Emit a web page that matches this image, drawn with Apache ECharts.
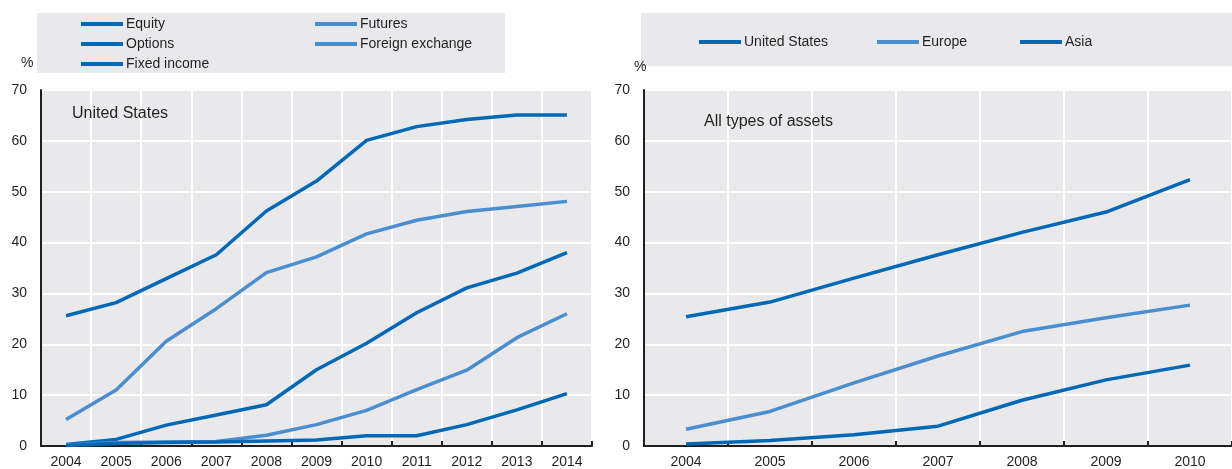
<!DOCTYPE html>
<html>
<head>
<meta charset="utf-8">
<script src="https://cdn.jsdelivr.net/npm/echarts@6/dist/echarts.min.js"></script>
<style>
  html, body { margin: 0; padding: 0; background: #fff; }
  #chart { width: 1232px; height: 469px; }
</style>
</head>
<body>
<div id="chart"></div>
<script>
// left panel: United States by asset type
const yearsUS = ['2004', '2005', '2006', '2007', '2008', '2009', '2010', '2011', '2012', '2013', '2014']
const equity = [25.6, 28.2, 32.9, 37.6, 46.2, 52.1, 60.1, 62.8, 64.2, 65.1, 65.1]
const futures = [5.2, 11.0, 20.6, 27.0, 34.1, 37.2, 41.7, 44.4, 46.1, 47.1, 48.1]
const options = [0.3, 1.3, 4.1, 6.1, 8.1, 15.0, 20.2, 26.2, 31.1, 34.0, 38.0]
const foreignExchange = [0.2, 0.7, 0.8, 0.9, 2.1, 4.2, 7.0, 11.1, 14.9, 21.3, 26.0]
const fixedIncome = [0.1, 0.5, 0.7, 0.8, 1.0, 1.2, 2.0, 2.0, 4.2, 7.1, 10.3]

// right panel: all types of assets by region
const yearsAll = ['2004', '2005', '2006', '2007', '2008', '2009', '2010']
const unitedStates = [25.4, 28.3, 33.0, 37.6, 42.0, 46.0, 52.4]
const europe = [3.3, 6.8, 12.4, 17.7, 22.5, 25.2, 27.7]
const asia = [0.4, 1.1, 2.2, 3.9, 9.0, 13.0, 15.9]

const yTicks = { min: 0, max: 70, interval: 10 }

const DARK = '#0068b5'
const LIGHT = '#4b8ed0'
const BG = '#e9e9ec'
const FONT = '"Liberation Sans Narrow", "Liberation Sans", Arial, sans-serif'
const TEXT = '#231f20'

const chart = echarts.init(document.getElementById('chart'))

function xAxis(gridIndex, data) {
  return {
    type: 'category',
    gridIndex,
    data,
    boundaryGap: true,
    axisLine: { lineStyle: { color: '#231f20', width: 2 } },
    axisTick: { show: true, inside: true, length: 5, lineStyle: { color: '#231f20', width: 2 } },
    axisLabel: { color: TEXT, fontSize: 14, fontFamily: FONT, margin: 9 },
    splitLine: { show: true, lineStyle: { color: '#fff', width: 2 } }
  }
}

function yAxis(gridIndex) {
  return {
    type: 'value',
    gridIndex,
    ...yTicks,
    axisLine: { show: true, lineStyle: { color: '#231f20', width: 2 } },
    axisTick: { show: false },
    axisLabel: { color: TEXT, fontSize: 14, fontFamily: FONT, margin: 14 },
    splitLine: { show: true, lineStyle: { color: '#fff', width: 2 } }
  }
}

function line(name, data, color, idx) {
  return {
    name, type: 'line', data,
    xAxisIndex: idx, yAxisIndex: idx,
    showSymbol: false, symbol: 'none',
    lineStyle: { color, width: 3.5 },
    itemStyle: { color },
    animation: false
  }
}

const legendBase = {
  icon: 'rect', itemWidth: 42, itemHeight: 4, itemGap: 6,
  textStyle: { color: TEXT, fontSize: 14, fontFamily: FONT, padding: [0, 0, 0, -2] },
  padding: 0,
  selectedMode: false
}

chart.setOption({
  animation: false,
  grid: [
    { left: 41, top: 90, width: 551, height: 357, show: true, backgroundColor: BG, borderWidth: 0 },
    { left: 644, top: 90, width: 591, height: 357, show: true, backgroundColor: BG, borderWidth: 0 }
  ],
  xAxis: [xAxis(0, yearsUS), xAxis(1, yearsAll)],
  yAxis: [yAxis(0), yAxis(1)],
  legend: [
    { ...legendBase, orient: 'vertical', left: 81, top: 17, data: ['Equity', 'Options', 'Fixed income'] },
    { ...legendBase, orient: 'vertical', left: 315, top: 17, data: ['Futures', 'Foreign exchange'] },
    { ...legendBase, left: 699, top: 35, data: ['United States'] },
    { ...legendBase, left: 877, top: 35, data: ['Europe'] },
    { ...legendBase, left: 1020, top: 35, data: ['Asia'] }
  ],
  graphic: [
    { type: 'rect', left: 37, top: 13, shape: { width: 468, height: 60 }, style: { fill: BG }, z: -10 },
    { type: 'rect', left: 641, top: 13, shape: { width: 600, height: 53 }, style: { fill: BG }, z: -10 },
    { type: 'text', left: 21, top: 56, style: { text: '%', fill: TEXT, fontSize: 14, fontFamily: FONT } },
    { type: 'text', left: 634, top: 60, style: { text: '%', fill: TEXT, fontSize: 14, fontFamily: FONT } },
    { type: 'text', left: 72, top: 106, style: { text: 'United States', fill: TEXT, fontSize: 16, fontFamily: FONT }, z: 10 },
    { type: 'text', left: 704, top: 114, style: { text: 'All types of assets', fill: TEXT, fontSize: 16, fontFamily: FONT }, z: 10 }
  ],
  series: [
    line('Equity', equity, DARK, 0),
    line('Futures', futures, LIGHT, 0),
    line('Options', options, DARK, 0),
    line('Foreign exchange', foreignExchange, LIGHT, 0),
    line('Fixed income', fixedIncome, DARK, 0),
    line('United States', unitedStates, DARK, 1),
    line('Europe', europe, LIGHT, 1),
    line('Asia', asia, DARK, 1)
  ]
})
</script>
</body>
</html>
